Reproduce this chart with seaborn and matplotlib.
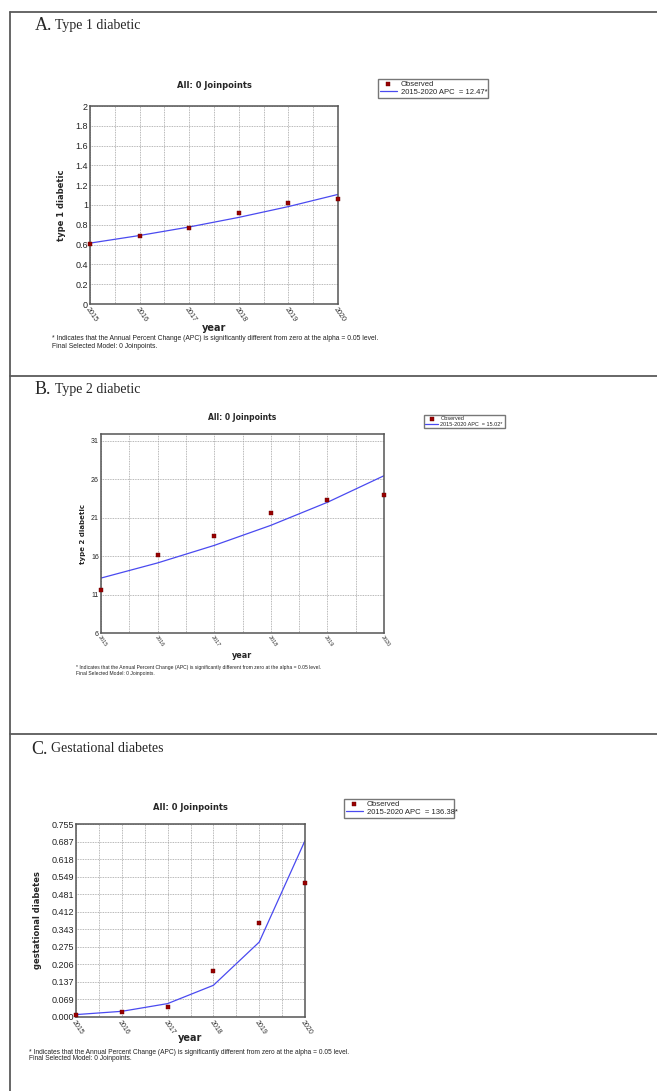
import numpy as np
import pandas as pd
from matplotlib import pyplot as plt
from matplotlib.lines import Line2D
import seaborn as sns

years = [2015, 2016, 2017, 2018, 2019, 2020]

t1_observed = [0.606, 0.687, 0.764, 0.919, 1.017, 1.057]
t1_fitted = [0.615, 0.692, 0.778, 0.875, 0.984, 1.107]
t1_yticks = [0, 0.2, 0.4, 0.6, 0.8, 1, 1.2, 1.4, 1.6, 1.8, 2]
t1_yticklabels = ["0", "0.2", "0.4", "0.6", "0.8", "1", "1.2", "1.4", "1.6", "1.8", "2"]

t2_observed = [11.55, 16.14, 18.57, 21.64, 23.37, 23.98]
t2_fitted = [13.15, 15.12, 17.40, 20.01, 23.01, 26.47]
t2_yticks = [6, 11, 16, 21, 26, 31]
t2_yticklabels = ["6", "11", "16", "21", "26", "31"]

gd_observed = [0.009, 0.020, 0.039, 0.178, 0.366, 0.526]
gd_fitted = [0.0094, 0.0222, 0.0524, 0.124, 0.293, 0.690]
gd_yticks = [0, 0.0686, 0.1373, 0.2059, 0.2745, 0.3432, 0.4118, 0.4805, 0.5491, 0.6177, 0.6864, 0.755]
gd_yticklabels = ["0.000", "0.069", "0.137", "0.206", "0.275", "0.343", "0.412",
                  "0.481", "0.549", "0.618", "0.687", "0.755"]

W, H = 657, 1091
FOOT1 = "* Indicates that the Annual Percent Change (APC) is significantly different from zero at the alpha = 0.05 level."
FOOT2 = "Final Selected Model: 0 Joinpoints."

sns.set_style("white")
plt.rcParams['font.family'] = ['Liberation Sans', 'DejaVu Sans']

fig = plt.figure(figsize=(W / 100, H / 100), dpi=100)
fig.patch.set_facecolor("white")


def fx(px):
    return px / W


def fy(py):
    return 1 - py / H


def panel(box, letter, title, title_y, obs, fit, yticks, yticklabels, ylim,
          ylabel, apc, legend_box, foot_xy, ylabel_x, xlabel_y, sizes):
    left, right, top, bottom = box
    ax = fig.add_axes([fx(left), fy(bottom), fx(right - left), (bottom - top) / H])
    df = pd.DataFrame({"year": years, "observed": obs, "fitted": fit})
    sns.lineplot(data=df, x="year", y="fitted", ax=ax, color="#4a4af0", lw=0.9,
                 label="2015-2020 APC  = " + apc + "*")
    sns.scatterplot(data=df, x="year", y="observed", ax=ax, marker="s", s=sizes["ms"],
                    color="#990000", edgecolor="#660000", linewidth=0.3,
                    label="Observed", clip_on=False, zorder=5)
    ax.set_xlim(2015, 2020)
    ax.set_ylim(*ylim)
    ax.set_xticks(years)
    ax.set_xticks(np.array(years[:-1]) + 0.5, minor=True)
    ax.set_xticklabels([str(y) for y in years], rotation=-55, ha="left", va="top",
                       rotation_mode="anchor", fontsize=sizes["xt"], color="#333333")
    ax.set_yticks(yticks)
    ax.set_yticklabels(yticklabels, fontsize=sizes["yt"], color="#222222")
    ax.tick_params(axis="both", which="both", length=0, pad=1.5)
    ax.grid(True, which="both", axis="x", color="#a0a0a0", ls=(0, (1, 1)), lw=0.6)
    ax.grid(True, which="major", axis="y", color="#a0a0a0", ls=(0, (1, 1)), lw=0.6)
    for sp in ax.spines.values():
        sp.set_color("#555555")
        sp.set_linewidth(1.1)
    ax.set_title("All: 0 Joinpoints", fontsize=sizes["t"], fontweight="bold",
                 family="DejaVu Sans", pad=sizes["tpad"])
    ax.set_ylabel(ylabel, fontsize=sizes["yl"], fontweight="bold", family="DejaVu Sans")
    ax.yaxis.set_label_coords(fx(ylabel_x), fy((top + bottom) / 2), transform=fig.transFigure)
    ax.yaxis.label.set_va("center")
    ax.set_xlabel("year", fontsize=sizes["xl"], fontweight="bold", family="DejaVu Sans")
    ax.xaxis.set_label_coords(fx((left + right) / 2), fy(xlabel_y), transform=fig.transFigure)
    ax.xaxis.label.set_va("center")

    handles, labels = ax.get_legend_handles_labels()
    ax.get_legend().remove()
    order = [labels.index("Observed"), 1 - labels.index("Observed")]
    lx0, ly0, lx1, ly1 = legend_box
    leg = fig.legend([handles[i] for i in order], [labels[i] for i in order],
                     loc="upper left", bbox_to_anchor=(fx(lx0), fy(ly0), fx(lx1 - lx0), (ly1 - ly0) / H),
                     mode="expand", fontsize=sizes["lg"], frameon=True, fancybox=False,
                     borderpad=0.25, labelspacing=0.05, handlelength=2.2, handletextpad=0.5,
                     borderaxespad=0)
    leg.get_frame().set_edgecolor("#555555")
    leg.get_frame().set_linewidth(1.0)

    fig.text(fx(foot_xy[0]), fy(foot_xy[1]), FOOT1, fontsize=sizes["ft"], va="center", color="#222222")
    fig.text(fx(foot_xy[0]), fy(foot_xy[1] + sizes["fgap"]), FOOT2, fontsize=sizes["ft"], va="center",
             color="#222222")

    fig.text(fx(title_y[0]), fy(title_y[1]), letter, fontsize=13, family="Liberation Serif",
             va="center", ha="left")
    fig.text(fx(title_y[0] + 20), fy(title_y[1]), title, fontsize=10, family="Liberation Serif",
             va="center", ha="left")
    return ax


sizes_a = dict(ms=12, xt=5.2, yt=6.5, t=6, tpad=13, yl=6, xl=7, lg=5.5, ft=4.85, fgap=8)
sizes_b = dict(ms=9, xt=4.0, yt=5, t=5.5, tpad=10, yl=5, xl=5.8, lg=4.0, ft=3.6, fgap=6)
sizes_c = dict(ms=12, xt=5.0, yt=6.5, t=6, tpad=10, yl=6, xl=7, lg=5.5, ft=4.77, fgap=6.5)

panel((90, 338, 106, 304), "A.", "Type 1 diabetic", (35, 25), t1_observed, t1_fitted,
      t1_yticks, t1_yticklabels, (0, 2), "type 1 diabetic", "12.47",
      (378, 100, 488, 121), (52, 339), 61, 328, sizes_a)
panel((101, 384, 434, 633), "B.", "Type 2 diabetic", (35, 390), t2_observed, t2_fitted,
      t2_yticks, t2_yticklabels, (6, 31.9), "type 2 diabetic", "15.02",
      (424, 434, 505, 453), (76, 668), 83, 655, sizes_b)
panel((76, 305, 824, 1017), "C.", "Gestational diabetes", (31, 749), gd_observed, gd_fitted,
      gd_yticks, gd_yticklabels, (0, 0.755), "gestational diabetes", "136.38",
      (344, 820, 454, 841), (29, 1052), 38, 1038, sizes_c)

# page frame and dividers
for seg in [((10, 10), (12, H)), ((10, W), (12, 12)), ((10, W), (376, 376)), ((10, W), (734, 734))]:
    (x0, x1), (y0, y1) = seg
    fig.add_artist(Line2D([fx(x0), fx(x1)], [fy(y0), fy(y1)], color="#5a5a5a", lw=1.3))

fig.savefig("out.png", dpi=100, facecolor="white")
